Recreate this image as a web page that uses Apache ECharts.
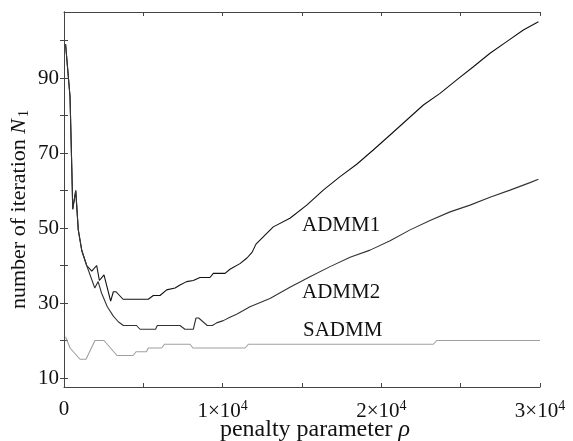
<!DOCTYPE html>
<html>
<head>
<meta charset="utf-8">
<script src="https://cdn.jsdelivr.net/npm/echarts@6/dist/echarts.min.js"></script>
<style>
  html, body { margin: 0; padding: 0; background: #fff; }
  #chart { width: 573px; height: 441px; }
</style>
</head>
<body>
<div id="chart"></div>
<script>
// values
const admm1Rho = [100, 380, 520, 550, 740, 900, 1120, 1430, 1750, 2060, 2230, 2520, 2940, 3110, 3280, 3720, 5310, 5630, 6050, 6470, 7000, 7310, 7730, 8150, 8570, 9200, 9410, 10150, 10460, 11090, 11530, 11850, 12100, 13190, 14240, 15300, 16340, 17400, 18450, 19490, 20550, 21600, 22650, 23700, 24750, 25800, 26850, 27900, 28950, 29900]
const admm1Iter = [99, 85, 61, 55, 60, 49.5, 44, 40, 38.5, 40, 36, 37.5, 30.5, 33, 33, 31, 31, 32, 32, 33.5, 34, 34.8, 35.7, 36, 36.8, 36.8, 37.9, 37.9, 39, 40.5, 42, 43.5, 45.7, 50.3, 52.6, 56.1, 60.1, 63.7, 67, 70.8, 74.8, 78.8, 82.8, 85.9, 89.5, 93, 96.6, 99.7, 102.8, 105]

const admm2Rho = [100, 380, 520, 550, 740, 900, 1120, 1430, 1940, 2150, 2370, 2730, 3110, 3420, 3740, 4570, 4790, 5770, 5880, 7310, 7620, 8150, 8320, 8490, 9030, 9350, 9620, 10040, 10460, 10880, 11300, 11720, 12980, 14240, 15500, 16770, 18030, 19290, 20550, 21810, 23070, 24330, 25590, 26850, 28110, 29370, 29900]
const admm2Iter = [99, 85, 61, 55, 60, 49.5, 44, 40, 34, 35.7, 32.6, 29, 26.5, 25, 24, 24, 23, 23, 24, 24, 23, 23, 26, 26, 24, 24, 24.7, 25.3, 26.2, 27, 28, 29, 31.2, 34.2, 37, 39.7, 42.2, 44.1, 46.6, 49.5, 52, 54.3, 56.1, 58.2, 60.1, 62.1, 63]

const sadmmRho = [100, 380, 1010, 1390, 1950, 2520, 3340, 4350, 4540, 5200, 5310, 6160, 6330, 7940, 8130, 11410, 11620, 23280, 23490, 30000]
const sadmmIter = [21, 18, 15, 15, 20, 20, 16, 16, 17, 17, 18, 18, 19, 19, 18, 18, 19, 19, 20, 20]

const yTicks = [10, 20, 30, 40, 50, 60, 70, 80, 90, 100]
const yLabels = [10, 30, 50, 70, 90]
const xLabels = [0, 10000, 20000, 30000]

const zip = (xs, ys) => xs.map((x, i) => [x, ys[i]])

const font = 'Liberation Serif'
const frameColor = '#444'

const chart = echarts.init(document.getElementById('chart'))

const xFormatter = v => {
  if (!xLabels.includes(v)) return ''
  if (v === 0) return '0'
  return (v / 10000) + '×10{sup|4}'
}

const option = {
  animation: false,
  grid: { left: 64, right: 33, top: 12, bottom: 54, containLabel: false, outerBoundsMode: 'none' },
  xAxis: [
    {
      type: 'value', min: 0, max: 30000, interval: 5000,
      name: 'penalty parameter {it|ρ}',
      nameLocation: 'middle', nameGap: 31, nameMoveOverlap: false,
      nameTextStyle: {
        fontFamily: font, fontSize: 24, color: '#111', padding: [0, 0, 0, 26],
        rich: { it: { fontFamily: font, fontSize: 24, fontStyle: 'italic', color: '#111' } }
      },
      axisLine: { lineStyle: { color: frameColor, width: 1 } },
      axisTick: { inside: true, length: 4, lineStyle: { color: frameColor } },
      axisLabel: {
        formatter: xFormatter, margin: 12,
        fontFamily: font, fontSize: 21, color: '#111',
        rich: { sup: { fontFamily: font, fontSize: 14, color: '#111', verticalAlign: 'top', padding: [0, 0, 10, 0] } }
      },
      splitLine: { show: false }
    },
    {
      type: 'value', min: 0, max: 30000, interval: 5000, position: 'top',
      axisLine: { show: true, lineStyle: { color: frameColor, width: 1 } },
      axisTick: { inside: true, length: 4, lineStyle: { color: frameColor } },
      axisLabel: { show: false },
      splitLine: { show: false }
    }
  ],
  yAxis: [
    {
      type: 'value', min: 7.6, max: 107.6,
      name: 'number of iteration {it|N}{sub|1}',
      nameLocation: 'middle', nameGap: 33, nameRotate: 90, nameMoveOverlap: false,
      nameTextStyle: {
        fontFamily: font, fontSize: 22, color: '#111', padding: [0, 20, 0, 0],
        rich: {
          it: { fontFamily: font, fontSize: 22, fontStyle: 'italic', color: '#111' },
          sub: { fontFamily: font, fontSize: 14, color: '#111', padding: [10, 0, 0, 2] }
        }
      },
      axisLine: { show: true, lineStyle: { color: frameColor, width: 1 } },
      axisTick: { show: true, inside: true, length: 4, customValues: yTicks, lineStyle: { color: frameColor } },
      axisLabel: { customValues: yLabels, margin: 5, fontFamily: font, fontSize: 21, color: '#111' },
      splitLine: { show: false }
    },
    {
      type: 'value', min: 7.6, max: 107.6, position: 'right',
      axisLine: { show: true, lineStyle: { color: frameColor, width: 1 } },
      axisTick: { show: true, inside: true, length: 4, customValues: yTicks, lineStyle: { color: frameColor } },
      axisLabel: { show: false },
      splitLine: { show: false }
    }
  ],
  series: [
    {
      name: 'ADMM1', type: 'line', data: zip(admm1Rho, admm1Iter),
      showSymbol: false, lineStyle: { color: '#111', width: 1.1 }
    },
    {
      name: 'ADMM2', type: 'line', data: zip(admm2Rho, admm2Iter),
      showSymbol: false, lineStyle: { color: '#333', width: 1.1 }
    },
    {
      name: 'SADMM', type: 'line', data: zip(sadmmRho, sadmmIter),
      showSymbol: false, lineStyle: { color: '#a0a0a0', width: 1.1 }
    }
  ],
  graphic: [
    { type: 'text', left: 302, top: 215, style: { text: 'ADMM1', fontFamily: font, fontSize: 21, fill: '#111' } },
    { type: 'text', left: 302, top: 282, style: { text: 'ADMM2', fontFamily: font, fontSize: 21, fill: '#111' } },
    { type: 'text', left: 303, top: 320, style: { text: 'SADMM', fontFamily: font, fontSize: 21, fill: '#111' } }
  ]
}

chart.setOption(option)
</script>
</body>
</html>
